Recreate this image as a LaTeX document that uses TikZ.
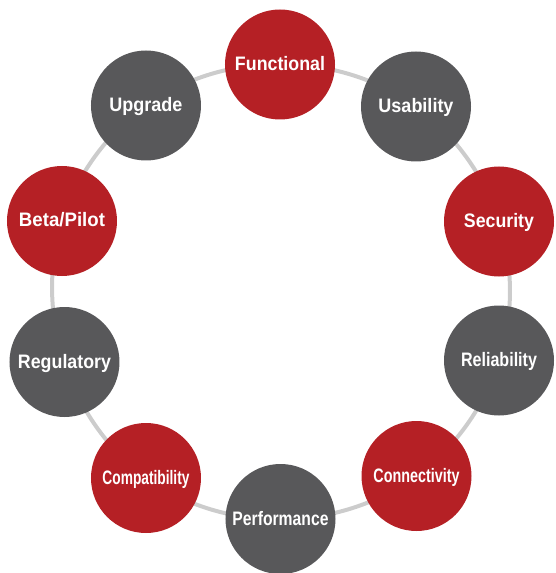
\documentclass[tikz,border=0pt]{standalone}
\usepackage{fontspec}
\setmainfont{Liberation Sans}
\usetikzlibrary{backgrounds}
\definecolor{ringred}{HTML}{B52025}
\definecolor{ringgray}{HTML}{58585A}
\definecolor{ringline}{HTML}{CCCCCC}
\newcommand{\lbl}[2]{\resizebox{#1pt}{\height}{#2}}
\begin{document}
\begin{tikzpicture}[x=1pt,y=1pt,
  redball/.style={circle, fill=ringred, minimum size=110pt, inner sep=0pt, text=white,
    font=\bfseries\fontsize{19.5}{20}\selectfont, text height=12pt, text depth=0pt},
  grayball/.style={redball, fill=ringgray},
  ring/.style={draw=ringline, line width=4pt},
  arc/.style={bend left=18, looseness=0.873}]
\useasboundingbox (-280.5,-281) rectangle (274.5,292);
\node[redball]  (fun) at (-0.5,227.5)  {\lbl{90}{Functional}};
\node[grayball] (usa) at (135.5,185.5) {\lbl{75}{Usability}};
\node[redball]  (sec) at (218.5,70.5)  {\lbl{70}{Security}};
\node[grayball] (rel) at (218.5,-68.5) {\lbl{76}{Reliability}};
\node[redball]  (con) at (136,-184)    {\lbl{86}{Connectivity}};
\node[grayball] (per) at (0,-227)      {\lbl{96}{Performance}};
\node[redball]  (com) at (-134.5,-186) {\lbl{87}{Compatibility}};
\node[grayball] (reg) at (-216,-70)    {\lbl{93}{Regulatory}};
\node[redball]  (bet) at (-218.5,71)   {\lbl{86}{Beta/Pilot}};
\node[grayball] (upg) at (-134.5,186.5){\lbl{73}{Upgrade}};
\begin{scope}[on background layer]
\draw[ring] (fun.center) to[arc] (usa.center);
\draw[ring] (usa.center) to[arc] (sec.center);
\draw[ring] (sec.center) to[arc] (rel.center);
\draw[ring] (rel.center) to[arc] (con.center);
\draw[ring] (con.center) to[arc] (per.center);
\draw[ring] (per.center) to[arc] (com.center);
\draw[ring] (com.center) to[arc] (reg.center);
\draw[ring] (reg.center) to[arc] (bet.center);
\draw[ring] (bet.center) to[arc] (upg.center);
\draw[ring] (upg.center) to[arc] (fun.center);
\end{scope}
\end{tikzpicture}
\end{document}
